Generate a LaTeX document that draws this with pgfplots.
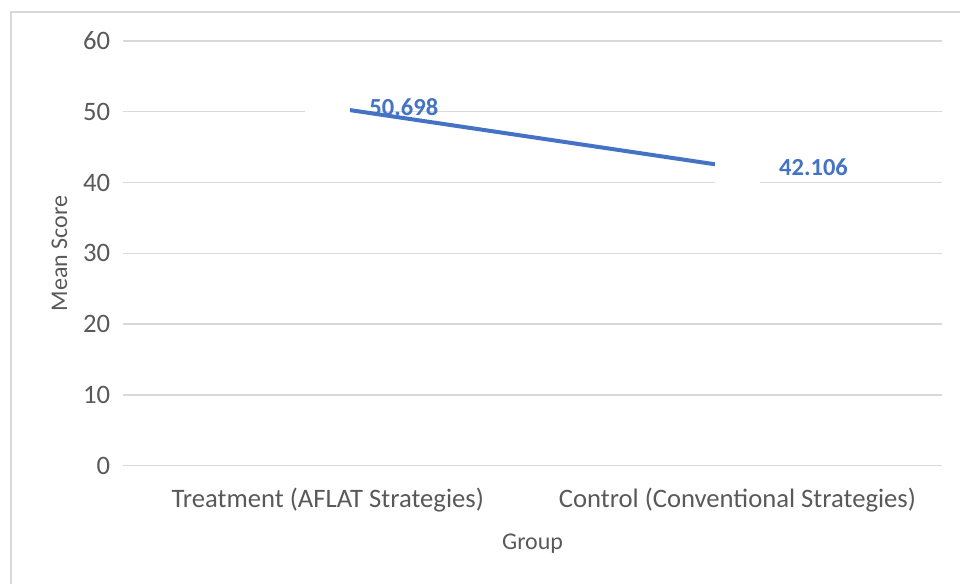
\documentclass[border=0pt]{standalone}
\usepackage{pgfplots}
\pgfplotsset{compat=1.18}
\usepackage{fontspec}
\setmainfont{Carlito}
\definecolor{lineblue}{HTML}{4472C4}
\definecolor{gridgray}{HTML}{D9D9D9}
\definecolor{textgray}{HTML}{595959}
\begin{document}
\begin{tikzpicture}
\begin{axis}[
  at={(0pt,0pt)}, anchor=south west,
  scale only axis,
  width=615pt, height=318.75pt,
  xmin=-0.5, xmax=1.5,
  ymin=0, ymax=60,
  ytick={0,10,...,60},
  xtick={0,1},
  xticklabels={Treatment (AFLAT Strategies),Control (Conventional Strategies)},
  axis line style={draw=none},
  axis x line*=bottom,
  x axis line style={draw=gridgray,line width=1.1pt},
  ymajorgrids,
  grid style={gridgray,line width=1.1pt},
  major tick length=0pt,
  tick label style={font=\fontsize{20}{22}\selectfont, text=textgray},
  /pgf/number format/assume math mode=true,
  yticklabel style={xshift=-6pt},
  xticklabel style={yshift=-13pt},
  xlabel={Group},
  ylabel={Mean Score},
  label style={font=\fontsize{18}{20}\selectfont, text=textgray},
  xlabel style={yshift=-10pt},
  ylabel style={yshift=5pt},
  clip=false,
]
\addplot[lineblue, line width=3pt,
  mark=square*, mark size=16.5pt,
  mark options={solid, fill=white, draw=white, line width=0pt},
  nodes near coords,
  nodes near coords style={anchor=west, xshift=28pt, font=\fontsize{18.4}{20}\selectfont\bfseries, text=lineblue},
  point meta=explicit symbolic]
  coordinates {(0,50.698) [50.698] (1,42.106) [42.106]};
\end{axis}
\draw[gridgray, line width=1.1pt] (-84pt,-88.5pt) -- (-84pt,340.5pt) -- (628.5pt,340.5pt);
\path[use as bounding box] (-92.25pt,-88.5pt) rectangle (628.5pt,349.5pt);
\end{tikzpicture}
\end{document}
